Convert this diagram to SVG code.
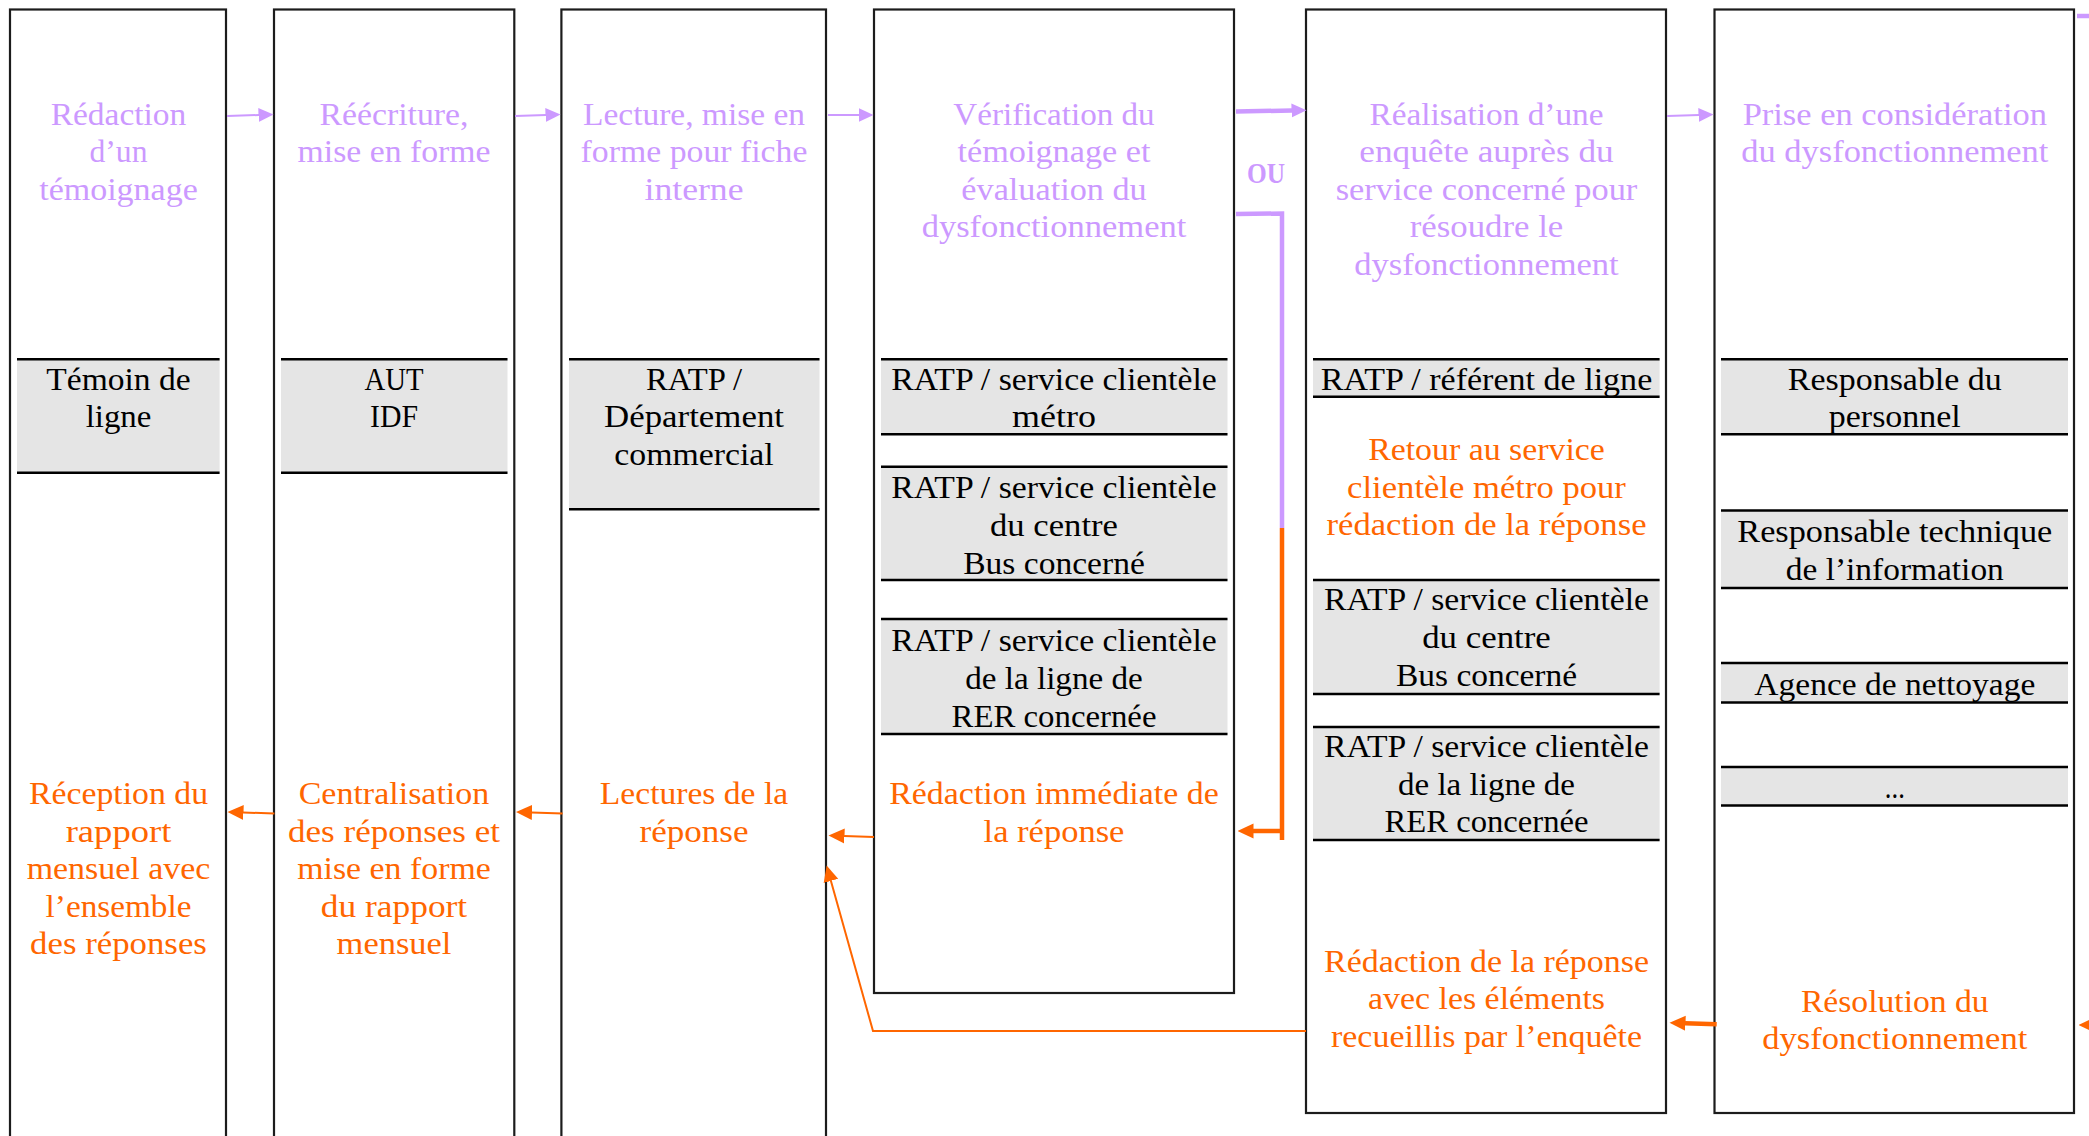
<svg xmlns="http://www.w3.org/2000/svg" width="2089" height="1136" viewBox="0 0 2089 1136">
<defs>
<style>
text{font-family:"Liberation Serif","Times New Roman",serif;font-size:32px;text-anchor:middle}
.p{fill:#CC99FF}
.o{fill:#FF6600}
.k{fill:#000}
.ou{font-weight:bold;font-size:29px}
.col{fill:#fff;stroke:#1c1c1c;stroke-width:2.2}
.box{fill:#E5E5E5;stroke:none}
.bl{stroke:#000;stroke-width:2.6}
.cp{fill:none;stroke:#CC99FF;stroke-width:2}
.cpt{fill:none;stroke:#CC99FF;stroke-width:4.5}
.co{fill:none;stroke:#FF6600;stroke-width:2}
.cot{fill:none;stroke:#FF6600;stroke-width:4.5}
</style>
<marker id="hp" viewBox="0 0 16 16" refX="0.5" refY="8" markerWidth="16" markerHeight="16" markerUnits="userSpaceOnUse" orient="auto"><path d="M0,1 L15,8 L0,15 z" fill="#CC99FF"/></marker>
<marker id="ho" viewBox="0 0 16 16" refX="0.5" refY="8" markerWidth="16" markerHeight="16" markerUnits="userSpaceOnUse" orient="auto"><path d="M0,0.5 L16,8 L0,15.5 z" fill="#FF6600"/></marker>
</defs>
<rect x="0" y="0" width="2089" height="1136" fill="#fff"/>

<g id="col1">
<rect class="col" x="10" y="9.5" width="216" height="1140"/>
<text class="p" x="118.5" y="124.6" textLength="135.7" lengthAdjust="spacingAndGlyphs">Rédaction</text>
<text class="p" x="118.5" y="162.2" textLength="57.9" lengthAdjust="spacingAndGlyphs">d’un</text>
<text class="p" x="118.5" y="199.8" textLength="158.6" lengthAdjust="spacingAndGlyphs">témoignage</text>
<g id="actor1">
<rect class="box" x="17" y="359.3" width="202.6" height="113.4"/>
<line class="bl" x1="17" y1="359.3" x2="219.6" y2="359.3"/>
<line class="bl" x1="17" y1="472.7" x2="219.6" y2="472.7"/>
<text class="k" x="118.5" y="389.7" textLength="144.3" lengthAdjust="spacingAndGlyphs">Témoin de</text>
<text class="k" x="118.5" y="427.3" textLength="65.7" lengthAdjust="spacingAndGlyphs">ligne</text>
</g>
<text class="o" x="118.5" y="804" textLength="179" lengthAdjust="spacingAndGlyphs">Réception du</text>
<text class="o" x="118.5" y="841.5" textLength="105.6" lengthAdjust="spacingAndGlyphs">rapport</text>
<text class="o" x="118.5" y="879" textLength="183.7" lengthAdjust="spacingAndGlyphs">mensuel avec</text>
<text class="o" x="118.5" y="916.5" textLength="145.8" lengthAdjust="spacingAndGlyphs">l’ensemble</text>
<text class="o" x="118.5" y="954" textLength="176.8" lengthAdjust="spacingAndGlyphs">des réponses</text>
</g>

<g id="col2">
<rect class="col" x="274" y="9.5" width="240.3" height="1140"/>
<text class="p" x="394" y="124.6" textLength="149" lengthAdjust="spacingAndGlyphs">Réécriture,</text>
<text class="p" x="394" y="162.2" textLength="192.9" lengthAdjust="spacingAndGlyphs">mise en forme</text>
<g id="actor2">
<rect class="box" x="281" y="359.3" width="226.5" height="113.4"/>
<line class="bl" x1="281" y1="359.3" x2="507.5" y2="359.3"/>
<line class="bl" x1="281" y1="472.7" x2="507.5" y2="472.7"/>
<text class="k" x="394" y="389.7" textLength="59" lengthAdjust="spacingAndGlyphs">AUT</text>
<text class="k" x="394" y="427.3" textLength="48" lengthAdjust="spacingAndGlyphs">IDF</text>
</g>
<text class="o" x="394" y="804" textLength="190.6" lengthAdjust="spacingAndGlyphs">Centralisation</text>
<text class="o" x="394" y="841.5" textLength="211.8" lengthAdjust="spacingAndGlyphs">des réponses et</text>
<text class="o" x="394" y="879" textLength="193.5" lengthAdjust="spacingAndGlyphs">mise en forme</text>
<text class="o" x="394" y="916.5" textLength="146.4" lengthAdjust="spacingAndGlyphs">du rapport</text>
<text class="o" x="394" y="954" textLength="114.8" lengthAdjust="spacingAndGlyphs">mensuel</text>
</g>

<g id="col3">
<rect class="col" x="561.4" y="9.5" width="264.6" height="1140"/>
<text class="p" x="694" y="124.6" textLength="222" lengthAdjust="spacingAndGlyphs">Lecture, mise en</text>
<text class="p" x="694" y="162.2" textLength="226.8" lengthAdjust="spacingAndGlyphs">forme pour fiche</text>
<text class="p" x="694" y="199.8" textLength="99" lengthAdjust="spacingAndGlyphs">interne</text>
<g id="actor3">
<rect class="box" x="569" y="359.3" width="250.5" height="150"/>
<line class="bl" x1="569" y1="359.3" x2="819.5" y2="359.3"/>
<line class="bl" x1="569" y1="509.3" x2="819.5" y2="509.3"/>
<text class="k" x="694" y="389.7" textLength="96" lengthAdjust="spacingAndGlyphs">RATP /</text>
<text class="k" x="694" y="427.3" textLength="180" lengthAdjust="spacingAndGlyphs">Département</text>
<text class="k" x="694" y="464.9" textLength="159.4" lengthAdjust="spacingAndGlyphs">commercial</text>
</g>
<text class="o" x="694" y="804" textLength="188.3" lengthAdjust="spacingAndGlyphs">Lectures de la</text>
<text class="o" x="694" y="841.5" textLength="109" lengthAdjust="spacingAndGlyphs">réponse</text>
</g>

<g id="col4">
<rect class="col" x="874" y="9.5" width="360" height="983.5"/>
<text class="p" x="1054" y="124.6" textLength="201.3" lengthAdjust="spacingAndGlyphs">Vérification du</text>
<text class="p" x="1054" y="162.2" textLength="192.9" lengthAdjust="spacingAndGlyphs">témoignage et</text>
<text class="p" x="1054" y="199.8" textLength="185.3" lengthAdjust="spacingAndGlyphs">évaluation du</text>
<text class="p" x="1054" y="237.4" textLength="264.7" lengthAdjust="spacingAndGlyphs">dysfonctionnement</text>
<g id="actor4a">
<rect class="box" x="881" y="359.3" width="346.5" height="75"/>
<line class="bl" x1="881" y1="359.3" x2="1227.5" y2="359.3"/>
<line class="bl" x1="881" y1="434.3" x2="1227.5" y2="434.3"/>
<text class="k" x="1054" y="389.7" textLength="325.5" lengthAdjust="spacingAndGlyphs">RATP / service clientèle</text>
<text class="k" x="1054" y="427.3" textLength="84" lengthAdjust="spacingAndGlyphs">métro</text>
</g>
<g id="actor4b">
<rect class="box" x="881" y="466.7" width="346.5" height="113.3"/>
<line class="bl" x1="881" y1="466.7" x2="1227.5" y2="466.7"/>
<line class="bl" x1="881" y1="580" x2="1227.5" y2="580"/>
<text class="k" x="1054" y="497.5" textLength="325.5" lengthAdjust="spacingAndGlyphs">RATP / service clientèle</text>
<text class="k" x="1054" y="535.5" textLength="128" lengthAdjust="spacingAndGlyphs">du centre</text>
<text class="k" x="1054" y="573.5" textLength="181.6" lengthAdjust="spacingAndGlyphs">Bus concerné</text>
</g>
<g id="actor4c">
<rect class="box" x="881" y="619" width="346.5" height="115"/>
<line class="bl" x1="881" y1="619" x2="1227.5" y2="619"/>
<line class="bl" x1="881" y1="734" x2="1227.5" y2="734"/>
<text class="k" x="1054" y="651" textLength="325.5" lengthAdjust="spacingAndGlyphs">RATP / service clientèle</text>
<text class="k" x="1054" y="689" textLength="177.6" lengthAdjust="spacingAndGlyphs">de la ligne de</text>
<text class="k" x="1054" y="726.5" textLength="205" lengthAdjust="spacingAndGlyphs">RER concernée</text>
</g>
<text class="o" x="1054" y="804" textLength="329.6" lengthAdjust="spacingAndGlyphs">Rédaction immédiate de</text>
<text class="o" x="1054" y="841.5" textLength="140.8" lengthAdjust="spacingAndGlyphs">la réponse</text>
</g>

<g id="col5">
<rect class="col" x="1306" y="9.5" width="360" height="1103.5"/>
<text class="p" x="1486.5" y="124.6" textLength="234" lengthAdjust="spacingAndGlyphs">Réalisation d’une</text>
<text class="p" x="1486.5" y="162.2" textLength="254.4" lengthAdjust="spacingAndGlyphs">enquête auprès du</text>
<text class="p" x="1486.5" y="199.8" textLength="301.6" lengthAdjust="spacingAndGlyphs">service concerné pour</text>
<text class="p" x="1486.5" y="237.4" textLength="153.5" lengthAdjust="spacingAndGlyphs">résoudre le</text>
<text class="p" x="1486.5" y="275" textLength="264.4" lengthAdjust="spacingAndGlyphs">dysfonctionnement</text>
<g id="actor5a">
<rect class="box" x="1313" y="359.3" width="346.6" height="37.4"/>
<line class="bl" x1="1313" y1="359.3" x2="1659.6" y2="359.3"/>
<line class="bl" x1="1313" y1="396.7" x2="1659.6" y2="396.7"/>
<text class="k" x="1486.5" y="389.7" textLength="331.5" lengthAdjust="spacingAndGlyphs">RATP / référent de ligne</text>
</g>
<text class="o" x="1486.5" y="460.3" textLength="236.7" lengthAdjust="spacingAndGlyphs">Retour au service</text>
<text class="o" x="1486.5" y="497.6" textLength="278.8" lengthAdjust="spacingAndGlyphs">clientèle métro pour</text>
<text class="o" x="1486.5" y="534.9" textLength="320" lengthAdjust="spacingAndGlyphs">rédaction de la réponse</text>
<g id="actor5b">
<rect class="box" x="1313" y="580" width="346.6" height="114"/>
<line class="bl" x1="1313" y1="580" x2="1659.6" y2="580"/>
<line class="bl" x1="1313" y1="694" x2="1659.6" y2="694"/>
<text class="k" x="1486.5" y="610" textLength="325" lengthAdjust="spacingAndGlyphs">RATP / service clientèle</text>
<text class="k" x="1486.5" y="648" textLength="128.6" lengthAdjust="spacingAndGlyphs">du centre</text>
<text class="k" x="1486.5" y="686" textLength="181" lengthAdjust="spacingAndGlyphs">Bus concerné</text>
</g>
<g id="actor5c">
<rect class="box" x="1313" y="727" width="346.6" height="113"/>
<line class="bl" x1="1313" y1="727" x2="1659.6" y2="727"/>
<line class="bl" x1="1313" y1="840" x2="1659.6" y2="840"/>
<text class="k" x="1486.5" y="757" textLength="325" lengthAdjust="spacingAndGlyphs">RATP / service clientèle</text>
<text class="k" x="1486.5" y="794.5" textLength="177" lengthAdjust="spacingAndGlyphs">de la ligne de</text>
<text class="k" x="1486.5" y="832" textLength="204" lengthAdjust="spacingAndGlyphs">RER concernée</text>
</g>
<text class="o" x="1486.5" y="972" textLength="325" lengthAdjust="spacingAndGlyphs">Rédaction de la réponse</text>
<text class="o" x="1486.5" y="1009" textLength="237" lengthAdjust="spacingAndGlyphs">avec les éléments</text>
<text class="o" x="1486.5" y="1046.5" textLength="311" lengthAdjust="spacingAndGlyphs">recueillis par l’enquête</text>
</g>

<g id="col6">
<rect class="col" x="1714.5" y="9.5" width="359.5" height="1103.5"/>
<text class="p" x="1894.8" y="124.6" textLength="304.3" lengthAdjust="spacingAndGlyphs">Prise en considération</text>
<text class="p" x="1894.8" y="162.2" textLength="307" lengthAdjust="spacingAndGlyphs">du dysfonctionnement</text>
<g id="actor6a">
<rect class="box" x="1721" y="359.3" width="347" height="75"/>
<line class="bl" x1="1721" y1="359.3" x2="2068" y2="359.3"/>
<line class="bl" x1="1721" y1="434.3" x2="2068" y2="434.3"/>
<text class="k" x="1894.8" y="389.7" textLength="214" lengthAdjust="spacingAndGlyphs">Responsable du</text>
<text class="k" x="1894.8" y="427.3" textLength="132" lengthAdjust="spacingAndGlyphs">personnel</text>
</g>
<g id="actor6b">
<rect class="box" x="1721" y="510.5" width="347" height="77.5"/>
<line class="bl" x1="1721" y1="510.5" x2="2068" y2="510.5"/>
<line class="bl" x1="1721" y1="588" x2="2068" y2="588"/>
<text class="k" x="1894.8" y="542" textLength="315" lengthAdjust="spacingAndGlyphs">Responsable technique</text>
<text class="k" x="1894.8" y="579.5" textLength="218" lengthAdjust="spacingAndGlyphs">de l’information</text>
</g>
<g id="actor6c">
<rect class="box" x="1721" y="663" width="347" height="39.5"/>
<line class="bl" x1="1721" y1="663" x2="2068" y2="663"/>
<line class="bl" x1="1721" y1="702.5" x2="2068" y2="702.5"/>
<text class="k" x="1894.8" y="694.5" textLength="281" lengthAdjust="spacingAndGlyphs">Agence de nettoyage</text>
</g>
<g id="actor6d">
<rect class="box" x="1721" y="767" width="347" height="38.5"/>
<line class="bl" x1="1721" y1="767" x2="2068" y2="767"/>
<line class="bl" x1="1721" y1="805.5" x2="2068" y2="805.5"/>
<text class="k" x="1894.8" y="798" textLength="20" lengthAdjust="spacingAndGlyphs">...</text>
</g>
<text class="o" x="1894.8" y="1011.5" textLength="187.7" lengthAdjust="spacingAndGlyphs">Résolution du</text>
<text class="o" x="1894.8" y="1049" textLength="265" lengthAdjust="spacingAndGlyphs">dysfonctionnement</text>
</g>

<g id="connectors">
<path class="cp" d="M227,116 L259,115" marker-end="url(#hp)"/>
<path class="cp" d="M515,116 L546,115" marker-end="url(#hp)"/>
<path class="cp" d="M828,115 L859,115" marker-end="url(#hp)"/>
<path class="cpt" d="M1236,111.5 L1292,110.5" marker-end="url(#hp)"/>
<path class="cp" d="M1667,116 L1699,115" marker-end="url(#hp)"/>
<path class="cpt" d="M2077,16 L2095,16"/>
<text class="p ou" x="1266" y="183" textLength="38" lengthAdjust="spacingAndGlyphs">OU</text>
<path class="cpt" d="M1236,214 L1282,213.5 L1282,528"/>
<path class="cot" d="M1282,528 L1282,840"/>
<path class="cot" d="M1282,831 L1253,831" marker-end="url(#ho)"/>
<path class="co" d="M874,837 L844,836" marker-end="url(#ho)"/>
<path class="co" d="M562.6,813.5 L531.5,812.5" marker-end="url(#ho)"/>
<path class="co" d="M274.4,813.5 L243,812.5" marker-end="url(#ho)"/>
<path class="co" d="M1306,1031 L873,1031 L830.8,880.4" marker-end="url(#ho)"/>
<path class="cot" d="M1716.7,1024.3 L1685,1023.2" marker-end="url(#ho)"/>
<path class="cot" d="M2120,1025 L2094,1025" marker-end="url(#ho)"/>
</g>
</svg>
